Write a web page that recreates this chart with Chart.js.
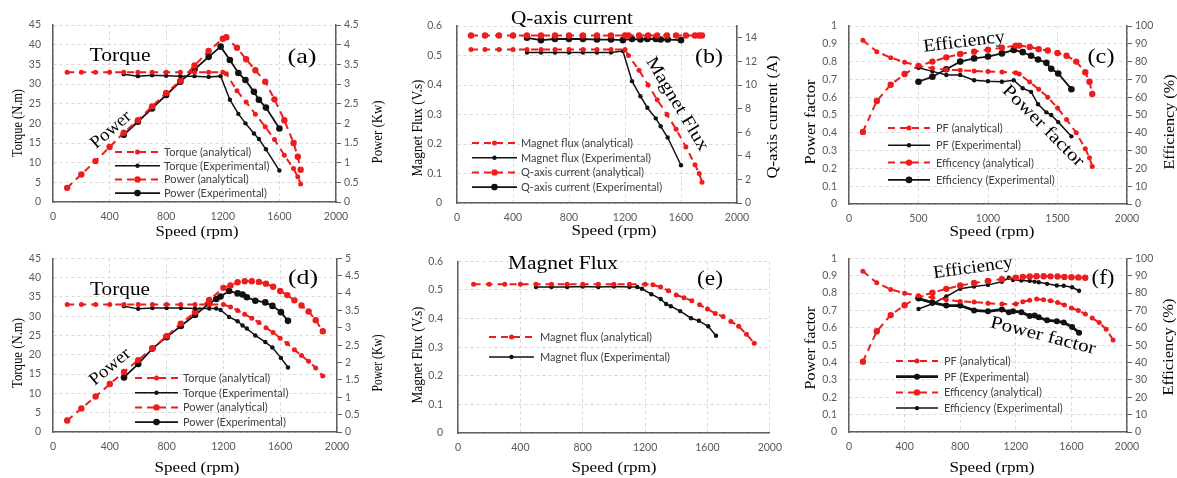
<!DOCTYPE html>
<html><head><meta charset="utf-8">
<script src="https://cdn.jsdelivr.net/npm/chart.js@4.4.1/dist/chart.umd.min.js"></script>
<style>
html,body{margin:0;padding:0;background:#fff;width:1177px;height:478px;overflow:hidden;position:relative}
canvas{position:absolute;display:block}
</style></head><body>
<canvas id="cA"></canvas><canvas id="cB"></canvas><canvas id="cC"></canvas>
<canvas id="cD"></canvas><canvas id="cE"></canvas><canvas id="cF"></canvas>
<script>
// ================= DATA =================
// speeds (rpm)
const speedAnaABC = [100,200,300,400,500,600,700,800,900,1000,1100,1200,1225,1300,1365,1430,1500,1565,1635,1700,1730,1750];
const speedExpABC = [500,600,700,800,900,1000,1100,1185,1250,1310,1360,1420,1455,1505,1600];
const speedAnaDEF = [100,200,300,400,500,600,700,800,900,1000,1100,1200,1250,1300,1350,1400,1450,1500,1550,1600,1650,1700,1750,1800,1850,1900];
const speedExpDEF = [500,600,700,800,900,1000,1100,1150,1180,1240,1300,1335,1365,1425,1495,1545,1605,1655];

// (a) torque (N.m) and power (kW)
const torqueAnaA = [33,33,33,33,33,33,33,33,33,33,33,33,32.6,28.3,25.4,22.3,19.1,15.9,11.9,8.5,6.4,4.6];
const powerAnaA  = [0.36,0.70,1.04,1.40,1.76,2.08,2.43,2.77,3.08,3.47,3.84,4.15,4.19,3.92,3.63,3.35,3.06,2.61,2.08,1.50,1.15,0.82];
const torqueExpA = [32.5,32.0,32.2,32.1,32.0,32.0,31.8,32.0,26.0,22.4,20.0,17.4,16.0,13.4,8.0];
const powerExpA  = [1.71,2.04,2.38,2.72,3.06,3.37,3.69,3.95,3.61,3.28,3.10,2.80,2.60,2.40,1.87];

// (b) magnet flux (V.s) and q-axis current (A)
const fluxAnaB = [0.52,0.52,0.52,0.52,0.52,0.52,0.52,0.52,0.52,0.52,0.52,0.52,0.50,0.45,0.40,0.35,0.30,0.25,0.19,0.13,0.10,0.07];
const iqAnaB   = [14.2,14.2,14.2,14.2,14.2,14.2,14.2,14.2,14.2,14.2,14.2,14.2,14.2,14.2,14.2,14.2,14.2,14.2,14.2,14.2,14.2,14.2];
const fluxExpB = [0.51,0.51,0.51,0.51,0.51,0.51,0.51,0.515,0.413,0.362,0.323,0.287,0.26,0.222,0.128];
const iqExpB   = [14.0,13.8,13.9,13.9,13.9,13.85,13.85,13.8,13.9,13.85,13.9,13.9,13.85,13.85,13.8];

// (c) power factor and efficiency (%)
const pfAnaC  = [0.92,0.856,0.822,0.797,0.776,0.763,0.754,0.752,0.747,0.744,0.741,0.738,0.73,0.685,0.645,0.60,0.54,0.475,0.40,0.31,0.26,0.21];
const effAnaC = [40.5,57.9,67,73,77.5,80,82.4,84.3,85.6,86.7,87.8,89.0,89.0,88.2,87.0,86.2,84.8,83.3,80.0,74.0,68.7,61.8];
const pfExpC  = [0.765,0.745,0.725,0.725,0.695,0.69,0.687,0.695,0.65,0.63,0.56,0.515,0.50,0.46,0.38];
const effExpC = [68.7,71.5,75.7,80,81.8,82.8,84.6,86.5,85.3,83.3,81.2,79.3,76,73.3,64.5];

// (d) torque (N.m) and power (kW)
const torqueAnaD = [33,33,33,33,33,33,33,33,33,33,33,33,32.4,31.5,30.5,29.5,28.4,27.0,25.8,24.3,22.9,21.3,19.8,18.3,16.6,14.5];
const powerAnaD  = [0.33,0.68,1.02,1.38,1.73,2.07,2.41,2.76,3.12,3.45,3.80,4.15,4.22,4.31,4.34,4.34,4.32,4.27,4.18,4.06,3.94,3.79,3.64,3.47,3.22,2.90];
const torqueExpD = [32.6,31.9,32.1,32.1,32.1,32.0,32.0,32.0,31.6,29.8,28.7,27.6,26.8,25.0,23.3,21.9,19.2,16.7];
const powerExpD  = [1.57,1.96,2.40,2.73,3.05,3.37,3.70,3.83,3.90,4.06,3.99,3.96,3.88,3.78,3.73,3.63,3.45,3.20];

// (e) magnet flux (V.s)
const fluxAnaE = [0.52,0.52,0.52,0.52,0.52,0.52,0.52,0.52,0.52,0.52,0.52,0.52,0.518,0.51,0.497,0.482,0.473,0.462,0.448,0.433,0.418,0.407,0.39,0.373,0.345,0.314];
const fluxExpE = [0.51,0.51,0.51,0.512,0.51,0.512,0.51,0.51,0.504,0.485,0.468,0.451,0.443,0.426,0.401,0.392,0.373,0.34];

// (f) power factor and efficiency (%)
const pfAnaF  = [0.925,0.859,0.821,0.799,0.784,0.774,0.761,0.752,0.748,0.741,0.737,0.737,0.75,0.759,0.765,0.761,0.756,0.746,0.731,0.714,0.699,0.68,0.656,0.63,0.592,0.53];
const effAnaF = [40.5,58,67.3,73,77.8,80.2,82.4,84.3,85.8,87.0,88.0,88.9,89.2,89.5,89.7,89.7,89.6,89.5,89.3,89.1,89.0,88.8,null,null,null,null];
const pfExpF  = [0.768,0.745,0.728,0.728,0.70,0.695,0.705,0.69,0.695,0.69,0.668,0.67,0.66,0.643,0.638,0.63,0.605,0.572];
const effExpF = [70.8,73.8,78,82.5,83.8,84.7,86.5,88.8,87.5,87.2,87.0,86.6,86.2,85.3,84.3,84.2,83.3,81.3];

// ================= STYLE =================
const RED = '#ee1c1c', BLACK = '#111111';
const SERIF = "'Liberation Serif', 'Times New Roman', serif";
const LEGFONT = "11px Lato, 'Liberation Sans', sans-serif";
const TICKFONT = {family: "'Liberation Sans Narrow', Lato, sans-serif", size: 10.5};
const TICKCOLOR = '#595959', GRID = '#d9d9d9', AXIS = '#5f5f5f';
const STYLES = {
  ana1: {color: RED, width: 2, dash: [7,5], r: 2.5},
  ana2: {color: RED, width: 2, dash: [7,5], r: 3.2},
  exp1: {color: BLACK, width: 1.5, dash: [], r: 2.2},
  exp2: {color: BLACK, width: 1.8, dash: [], r: 3.3},
  expT: {color: BLACK, width: 2.8, dash: [], r: 3}
};

function ds(label, xs, ys, st, axis) {
  const s = STYLES[st];
  const pts = [];
  xs.forEach((x, i) => { if (ys[i] !== null && ys[i] !== undefined) pts.push({x: x, y: ys[i]}); });
  return {label, data: pts, yAxisID: axis, borderColor: s.color, backgroundColor: s.color,
    borderWidth: s.width, borderDash: s.dash, pointRadius: s.r, pointBackgroundColor: s.color,
    pointBorderWidth: 0, pointHoverRadius: s.r, tension: 0, fill: false, _st: st};
}

const fmt = v => String(+(+v).toFixed(2));

const annotPlugin = {
  id: 'annot',
  afterDatasetsDraw(chart, args, opts) {
    const ctx = chart.ctx, ox = opts.ox, oy = opts.oy;
    (opts.texts || []).forEach(t => {
      ctx.save();
      ctx.font = t.size + 'px ' + SERIF;
      const w = ctx.measureText(t.t).width;
      ctx.translate(t.x - ox, t.y - oy);
      if (t.rot) ctx.rotate(t.rot * Math.PI / 180);
      if (t.len) ctx.scale(t.len / w, 1);
      ctx.fillStyle = '#000';
      ctx.textAlign = 'center'; ctx.textBaseline = 'middle';
      ctx.fillText(t.t, 0, 0);
      ctx.restore();
    });
    const L = opts.legend;
    if (L) {
      chart.data.datasets.forEach((d, i) => {
        const s = STYLES[d._st];
        const y = L.y0 + i * L.dy - oy, x0 = L.x0 - ox, x1 = L.x1 - ox;
        ctx.save();
        ctx.strokeStyle = s.color; ctx.lineWidth = s.width; ctx.setLineDash(s.dash);
        ctx.beginPath(); ctx.moveTo(x0, y); ctx.lineTo(x1, y); ctx.stroke();
        ctx.setLineDash([]);
        ctx.fillStyle = s.color; ctx.beginPath(); ctx.arc((x0 + x1) / 2, y, s.r, 0, Math.PI * 2); ctx.fill();
        ctx.font = LEGFONT; ctx.fillStyle = '#404040'; ctx.textAlign = 'left'; ctx.textBaseline = 'middle';
        ctx.fillText(d.label, L.tx - ox, y + 0.5);
        ctx.restore();
      });
    }
  }
};

function makePanel(id, box, area, p) {
  const cv = document.getElementById(id);
  cv.style.left = box.x + 'px'; cv.style.top = box.y + 'px';
  cv.width = box.w; cv.height = box.h;
  cv.style.width = box.w + 'px'; cv.style.height = box.h + 'px';
  const scales = {
    x: {type: 'linear', min: 0, max: 2000,
      ticks: {stepSize: p.xStep, color: TICKCOLOR, font: TICKFONT, padding: 8, callback: fmt, maxRotation: 0},
      grid: {color: GRID, drawTicks: false, lineWidth: 1},
      border: {color: AXIS, width: 1.5, dash: [3,3]},
      afterFit: s => { s.height = box.y + box.h - area.b; }},
    y: {type: 'linear', position: 'left', min: p.y.min, max: p.y.max,
      ticks: {stepSize: p.y.step, color: TICKCOLOR, font: TICKFONT, padding: p.y.pad || 12, callback: fmt},
      grid: {color: GRID, drawTicks: false, lineWidth: 1},
      border: {color: AXIS, width: 1.5, dash: [3,3]},
      afterFit: s => { s.width = area.l - box.x; }}
  };
  if (p.y1) {
    scales.y1 = {type: 'linear', position: 'right', min: p.y1.min, max: p.y1.max,
      ticks: {stepSize: p.y1.step, color: TICKCOLOR, font: TICKFONT, padding: 3, callback: fmt, includeBounds: false},
      grid: {drawOnChartArea: false, drawTicks: true, tickLength: 5, tickColor: AXIS, tickWidth: 1},
      border: {color: AXIS, width: 1.5},
      afterFit: s => { s.width = box.x + box.w - area.r; }};
  }
  return new Chart(cv, {
    type: 'line',
    data: {datasets: p.datasets},
    options: {
      responsive: false, animation: false, devicePixelRatio: 1, events: [],
      layout: {padding: {top: area.t - box.y, left: 0, bottom: 0, right: p.y1 ? 0 : (box.x + box.w - area.r)}},
      scales,
      plugins: {legend: {display: false}, tooltip: {enabled: false},
        annot: {ox: box.x, oy: box.y, texts: p.texts, legend: p.legend}}
    },
    plugins: [annotPlugin]
  });
}

// (a)
makePanel('cA', {x:0,y:0,w:392,h:240}, {l:53,r:336,t:25,b:202}, {
  xStep: 400, y: {min:0,max:45,step:5}, y1: {min:0,max:4.5,step:0.5},
  datasets: [
    ds('Torque (analytical)', speedAnaABC, torqueAnaA, 'ana1', 'y'),
    ds('Torque (Experimental)', speedExpABC, torqueExpA, 'exp1', 'y'),
    ds('Power (analytical)', speedAnaABC, powerAnaA, 'ana2', 'y1'),
    ds('Power (Experimental)', speedExpABC, powerExpA, 'exp2', 'y1')],
  legend: {x0:115, x1:160, tx:164, y0:152, dy:13.7},
  texts: [
    {t:'Torque (N.m)', x:18, y:123, size:15, rot:-90, len:68},
    {t:'Power (Kw)', x:378, y:132, size:15, rot:-90, len:63},
    {t:'Speed (rpm)', x:197, y:232, size:15, len:83},
    {t:'Torque', x:120, y:56, size:18, len:61},
    {t:'Power', x:111, y:130, size:18, rot:-41, len:48},
    {t:'(a)', x:302, y:57, size:21, len:29}]
});

// (b)
makePanel('cB', {x:392,y:0,w:398,h:240}, {l:457,r:737,t:26,b:203}, {
  xStep: 400, y: {min:0,max:0.6,step:0.1,pad:15}, y1: {min:0,max:15,step:2},
  datasets: [
    ds('Magnet flux (analytical)', speedAnaABC, fluxAnaB, 'ana1', 'y'),
    ds('Magnet flux (Experimental)', speedExpABC, fluxExpB, 'exp1', 'y'),
    ds('Q-axis current (analytical)', speedAnaABC, iqAnaB, 'ana2', 'y1'),
    ds('Q-axis current (Experimental)', speedExpABC, iqExpB, 'exp2', 'y1')],
  legend: {x0:472, x1:517, tx:521, y0:143, dy:14.7},
  texts: [
    {t:'Magnet Flux (V.s)', x:418, y:128, size:15, rot:-90, len:97},
    {t:'Q-axis current (A)', x:773, y:117, size:15, rot:-90, len:123},
    {t:'Speed (rpm)', x:614, y:231, size:15, len:85},
    {t:'Q-axis current', x:572, y:19, size:18, len:122},
    {t:'Magnet Flux', x:677, y:104, size:18, rot:59, len:106},
    {t:'(b)', x:709, y:57, size:21, len:28}]
});

// (c)
makePanel('cC', {x:790,y:0,w:387,h:240}, {l:849,r:1127,t:26,b:204}, {
  xStep: 500, y: {min:0,max:1,step:0.1}, y1: {min:0,max:100,step:10},
  datasets: [
    ds('PF (analytical)', speedAnaABC, pfAnaC, 'ana1', 'y'),
    ds('PF (Experimental)', speedExpABC, pfExpC, 'exp1', 'y'),
    ds('Efficency (analytical)', speedAnaABC, effAnaC, 'ana2', 'y1'),
    ds('Efficiency (Experimental)', speedExpABC, effExpC, 'exp2', 'y1')],
  legend: {x0:888, x1:930, tx:936, y0:128, dy:17.3},
  texts: [
    {t:'Power factor', x:811, y:122, size:15, rot:-90, len:85},
    {t:'Efficiency (%)', x:1170, y:122, size:15, rot:-90, len:95},
    {t:'Speed (rpm)', x:992, y:232, size:15, len:85},
    {t:'Efficiency', x:964, y:42, size:18, rot:-7, len:82},
    {t:'Power factor', x:1043, y:126, size:18, rot:45, len:108},
    {t:'(c)', x:1101, y:57, size:21, len:27}]
});

// (d)
makePanel('cD', {x:0,y:240,w:392,h:238}, {l:53,r:337,t:255,b:432}, {
  xStep: 400, y: {min:0,max:45,step:5}, y1: {min:0,max:5,step:0.5},
  datasets: [
    ds('Torque (analytical)', speedAnaDEF, torqueAnaD, 'ana1', 'y'),
    ds('Torque (Experimental)', speedExpDEF, torqueExpD, 'exp1', 'y'),
    ds('Power (analytical)', speedAnaDEF, powerAnaD, 'ana2', 'y1'),
    ds('Power (Experimental)', speedExpDEF, powerExpD, 'exp2', 'y1')],
  legend: {x0:135, x1:178, tx:183, y0:378, dy:14.7},
  texts: [
    {t:'Torque (N.m)', x:18, y:353, size:15, rot:-90, len:70},
    {t:'Power (Kw)', x:378, y:363, size:15, rot:-90, len:57},
    {t:'Speed (rpm)', x:197, y:468, size:15, len:85},
    {t:'Torque', x:120, y:290, size:18, len:60},
    {t:'Power', x:110, y:367, size:18, rot:-40, len:48},
    {t:'(d)', x:303, y:278, size:21, len:30}]
});

// (e)
makePanel('cE', {x:392,y:240,w:398,h:238}, {l:458,r:773,t:254,b:433}, {
  xStep: 400, y: {min:0,max:0.6,step:0.1,pad:15},
  datasets: [
    ds('Magnet flux (analytical)', speedAnaDEF, fluxAnaE, 'ana1', 'y'),
    ds('Magnet flux (Experimental)', speedExpDEF, fluxExpE, 'exp1', 'y')],
  legend: {x0:489, x1:534, tx:540, y0:337, dy:20},
  texts: [
    {t:'Magnet Flux (V.s)', x:418, y:355, size:15, rot:-90, len:97},
    {t:'Speed (rpm)', x:614, y:468, size:15, len:85},
    {t:'Magnet Flux', x:563, y:264, size:18, len:110},
    {t:'(e)', x:710, y:279, size:21, len:26}]
});

// (f)
makePanel('cF', {x:790,y:240,w:387,h:238}, {l:849,r:1127,t:255,b:432}, {
  xStep: 400, y: {min:0,max:1,step:0.1}, y1: {min:0,max:100,step:10},
  datasets: [
    ds('PF (analytical)', speedAnaDEF, pfAnaF, 'ana1', 'y'),
    ds('PF (Experimental)', speedExpDEF, pfExpF, 'expT', 'y'),
    ds('Efficency (analytical)', speedAnaDEF, effAnaF, 'ana2', 'y1'),
    ds('Efficiency (Experimental)', speedExpDEF, effExpF, 'exp1', 'y1')],
  legend: {x0:896, x1:938, tx:944, y0:361, dy:15.7},
  texts: [
    {t:'Power factor', x:811, y:348, size:15, rot:-90, len:83},
    {t:'Efficiency (%)', x:1169, y:347, size:15, rot:-90, len:97},
    {t:'Speed (rpm)', x:992, y:468, size:15, len:85},
    {t:'Efficiency', x:973, y:268, size:18, rot:-8, len:80},
    {t:'Power factor', x:1043, y:336, size:18, rot:14.5, len:108},
    {t:'(f)', x:1103, y:278, size:21, len:23}]
});
</script>
</body></html>
